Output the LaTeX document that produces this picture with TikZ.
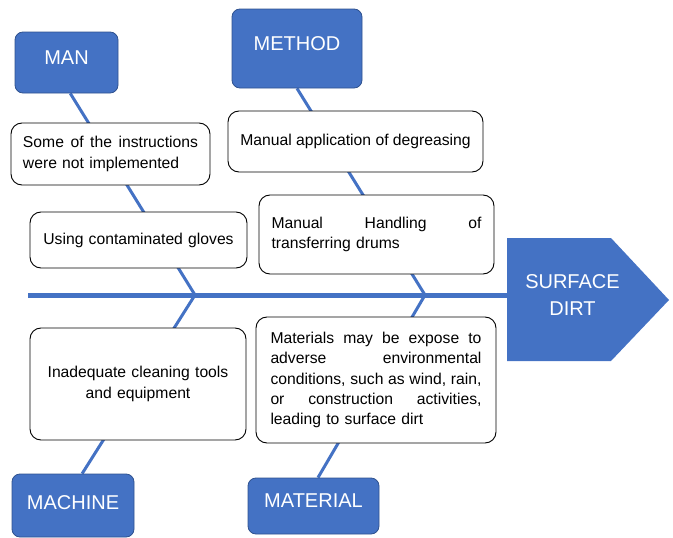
\documentclass[tikz,border=0pt]{standalone}
\usepackage{fontspec}
\setmainfont{Liberation Sans}
\usetikzlibrary{backgrounds,calc}
\definecolor{accent}{HTML}{4472C4}
\definecolor{accentdark}{HTML}{2F528F}
\newcommand{\jline}[2]{\leavevmode\hbox to #1{\spaceskip=0.278em plus 10em\relax #2}}
\begin{document}
\begin{tikzpicture}[x=1pt,y=-1pt,
  cause/.style={draw=black, line width=0.9pt, fill=white, rounded corners=11pt, inner sep=0pt,
    font=\fontsize{15.7}{20.3}\selectfont},
  category/.style={draw=accentdark, line width=0.8pt, fill=accent, rounded corners=8pt, inner sep=0pt,
    text=white, font=\fontsize{20}{24}\selectfont, text height=14.3pt},
  bone/.style={draw=accent, line width=3pt},
  spine/.style={draw=accent, line width=5pt},
  effecttext/.style={text=white, font=\fontsize{20}{26.5}\selectfont, align=center, inner sep=0pt},
]
\useasboundingbox (0,0) rectangle (673,538);

% categories
\node[category, minimum width=103pt, minimum height=61pt, text depth=10pt] (man) at (66.5,62.5) {MAN};
\node[category, minimum width=130pt, minimum height=79pt, text depth=10pt] (method) at (297,48.5) {METHOD};
\node[category, minimum width=122pt, minimum height=63pt, text depth=7pt] (machine) at (73,505.5) {MACHINE};
\node[category, minimum width=131pt, minimum height=56pt, text depth=12pt] (material) at (313.5,506) {MATERIAL};

% causes
\node[cause, minimum width=199pt, minimum height=62pt, text width=175pt, align=left] (c1) at (110.5,154)
  {\jline{175pt}{Some of the instructions}\\were not implemented};
\node[cause, minimum width=217pt, minimum height=56pt, text width=200pt, align=center] (c2) at (138.5,240)
  {Using contaminated gloves};
\node[cause, minimum width=255pt, minimum height=61pt] (c3) at (355.5,141.5)
  {Manual application of degreasing};
\node[cause, minimum width=235pt, minimum height=79pt, text width=210pt, align=left] (c4) at (376.5,234.5)
  {\jline{210pt}{Manual Handling of}\\transferring drums};
\node[cause, minimum width=216pt, minimum height=112pt, text width=200pt, align=center] (c5) at (138,384)
  {Inadequate cleaning tools\\and equipment};
\node[cause, minimum width=240pt, minimum height=126pt, text width=211pt, align=left] (c6) at (376,380)
  {\jline{211pt}{Materials may be expose to}\\\jline{211pt}{adverse environmental}\\\jline{211pt}{conditions, such as wind, rain,}\\\jline{211pt}{or construction activities,}\\leading to surface dirt};

% effect head
\fill[accent] (507,238) -- (611,238) -- (669,300) -- (611,361) -- (507,361) -- cycle;
\node[effecttext] (effect) at (572.5,295) {SURFACE\\DIRT};

% spine and bones
\coordinate (tail) at (28,295);
\coordinate (head) at (507,295);
\coordinate (j1) at (195,295);
\coordinate (j2) at (425,295);
\begin{pgfonlayer}{background}
\draw[spine] (tail) -- (head);
\draw[bone] (man.-83.5) -- (j1) -- (machine.74);
\draw[bone] (method.south) -- (j2) -- (material.81);
\end{pgfonlayer}
\end{tikzpicture}
\end{document}
